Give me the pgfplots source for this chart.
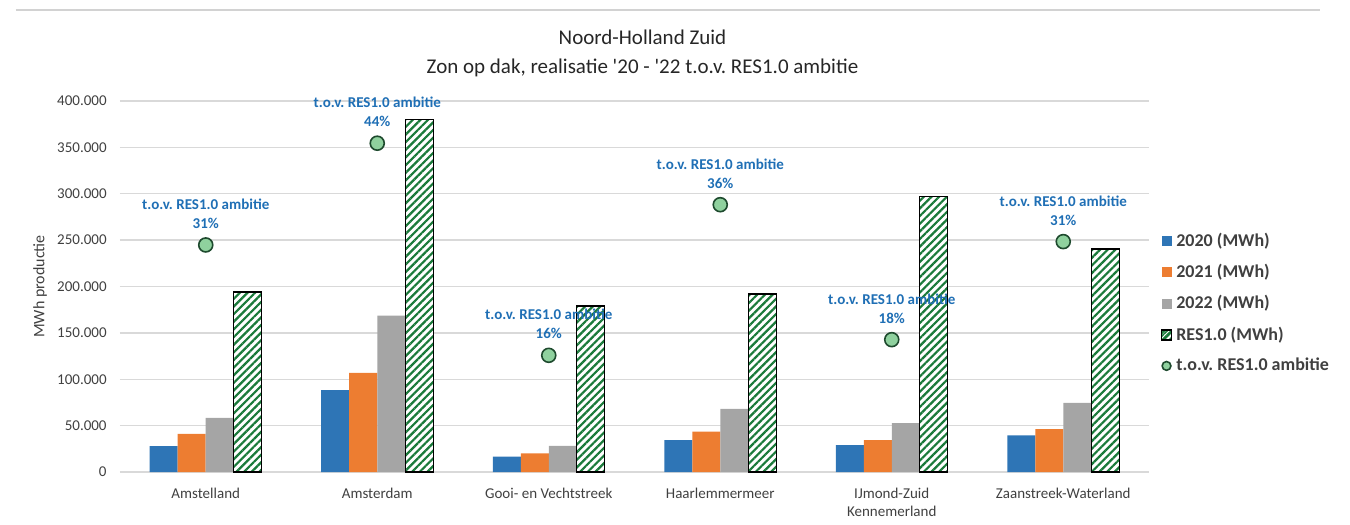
\documentclass[border=0pt]{standalone}
\usepackage{fontspec}
\setmainfont{Carlito}
\newfontfamily\plaincarlito{Carlito}[Ligatures=TeXOff]
\usepackage{pgfplots}
\pgfplotsset{compat=1.18}
\usetikzlibrary{patterns.meta}
\definecolor{c20}{HTML}{2E75B6}
\definecolor{c21}{HTML}{ED7D31}
\definecolor{c22}{HTML}{A5A5A5}
\definecolor{hatch}{HTML}{1A7A3A}
\definecolor{ptfill}{HTML}{8FD19E}
\definecolor{ptedge}{HTML}{1E4A2E}
\definecolor{lblblue}{HTML}{1F6FB5}
\definecolor{txt}{HTML}{404040}
\definecolor{gridc}{HTML}{D9D9D9}
\frenchspacing
\begin{document}
\begin{tikzpicture}
\path[use as bounding box] (-60pt,-26.5pt) rectangle (615pt,236pt);
\draw[gray!35, line width=0.6pt] (-52pt,231pt) -- (600pt,231pt);
\begin{axis}[
  at={(0,0)}, anchor=south west,
  scale only axis, width=514.5pt, height=185.5pt,
  xmin=-0.5, xmax=5.5, ymin=0, ymax=400000,
  xtick={0,1,2,3,4,5},
  xticklabels={Amstelland, Amsterdam, Gooi- en Vechtstreek, Haarlemmermeer, {IJmond-Zuid\\Kennemerland}, Zaanstreek-Waterland},
  xticklabel style={font=\fontsize{7.5}{9}\selectfont, text=txt, align=center, inner sep=0pt, yshift=-8pt},
  ytick={0,50000,...,400000},
  scaled y ticks=false,
  yticklabel style={font=\fontsize{7.5}{9}\selectfont, text=txt, inner sep=0pt, xshift=-6.5pt,
    /pgf/number format/.cd, fixed, 1000 sep={.}, assume math mode=true},
  axis line style={draw=none},
  tick style={draw=none},
  ymajorgrids, grid style={gridc, line width=0.7pt},
  ylabel={MWh productie},
  every axis y label/.style={at={(axis description cs:-0.0777,0.5)}, rotate=90, anchor=center, font=\fontsize{8}{9}\selectfont, text=txt},
  legend style={at={(1.011,0.455)}, anchor=west, draw=none, fill=none, font=\bfseries\fontsize{9}{11}\selectfont, text=txt, row sep=3.5pt, inner sep=0pt},
  legend cell align=left,
  clip=false,
]
\addplot[ybar, bar width=14pt, bar shift=-21pt, fill=c20, draw=none,
  legend image code/.code={\path[fill=c20] (0pt,-2.5pt) rectangle (5pt,2.5pt);}]
  coordinates {(0,28000) (1,88200) (2,16500) (3,34400) (4,29000) (5,39400)};
\addlegendentry{2020 (MWh)}
\addplot[ybar, bar width=14pt, bar shift=-7pt, fill=c21, draw=none,
  legend image code/.code={\path[fill=c21] (0pt,-2.5pt) rectangle (5pt,2.5pt);}]
  coordinates {(0,41000) (1,106800) (2,20000) (3,43400) (4,34400) (5,46200)};
\addlegendentry{2021 (MWh)}
\addplot[ybar, bar width=14pt, bar shift=7pt, fill=c22, draw=none,
  legend image code/.code={\path[fill=c22] (0pt,-2.5pt) rectangle (5pt,2.5pt);}]
  coordinates {(0,58400) (1,168700) (2,28300) (3,68100) (4,52700) (5,74500)};
\addlegendentry{2022 (MWh)}
\addplot[ybar, bar width=14pt, bar shift=21pt, fill=white, draw=black, line width=0.7pt,
  postaction={pattern={Lines[angle=45,distance=2.7pt,line width=1.1pt]}, pattern color=hatch},
  legend image code/.code={\path[fill=white, draw=black, line width=0.6pt, postaction={pattern={Lines[angle=45,distance=2pt,line width=0.8pt]}, pattern color=hatch}] (0pt,-2.5pt) rectangle (5pt,2.5pt);}]
  coordinates {(0,194000) (1,380000) (2,179000) (3,191800) (4,297000) (5,240500)};
\addlegendentry{RES1.0 (MWh)}
\addplot[only marks, mark=*, mark size=3.5pt, mark options={fill=ptfill, draw=ptedge, line width=0.8pt},
  legend image code/.code={\draw[fill=ptfill, draw=ptedge, line width=0.8pt] (2.5pt,0pt) circle (2.2pt);}]
  coordinates {(0,244800) (1,354500) (2,125800) (3,288200) (4,142700) (5,248400)};
\addlegendentry{t.o.v. RES1.0 ambitie}

\tikzset{lbl/.style={anchor=south, yshift=8pt, align=center, inner sep=0pt, text=lblblue, font=\bfseries\fontsize{7.5}{9.5}\selectfont}}
\node[lbl] at (axis cs:0,244800) {t.o.v. RES1.0 ambitie\\31\%};
\node[lbl] at (axis cs:1,354500) {t.o.v. RES1.0 ambitie\\44\%};
\node[lbl] at (axis cs:2,125800) {t.o.v. RES1.0 ambitie\\16\%};
\node[lbl] at (axis cs:3,288200) {t.o.v. RES1.0 ambitie\\36\%};
\node[lbl] at (axis cs:4,142700) {t.o.v. RES1.0 ambitie\\18\%};
\node[lbl] at (axis cs:5,248400) {t.o.v. RES1.0 ambitie\\31\%};

\node[font=\plaincarlito\fontsize{10.5}{12}\selectfont, text=black!85] at (rel axis cs:0.5,1) [xshift=4pt, yshift=32pt] {Noord-Holland Zuid};
\node[font=\plaincarlito\fontsize{10.5}{12}\selectfont, text=black!85] at (rel axis cs:0.5,1) [xshift=4pt, yshift=16.5pt] {Zon op dak, realisatie '20 - '22 t.o.v. RES1.0 ambitie};
\end{axis}
\end{tikzpicture}
\end{document}
